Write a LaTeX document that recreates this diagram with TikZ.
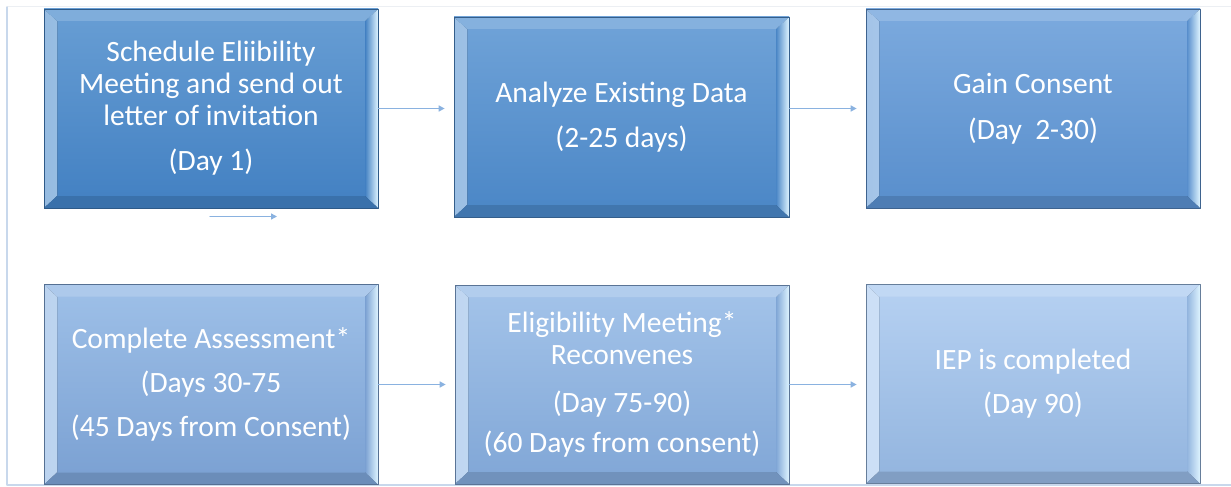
\documentclass[tikz,border=0pt]{standalone}
\usepackage{fontspec}
\setmainfont{Carlito}
\usetikzlibrary{arrows.meta}

\definecolor{topA}{RGB}{104,158,212}  \definecolor{botA}{RGB}{66,128,194}
\definecolor{topB}{RGB}{112,163,216}  \definecolor{botB}{RGB}{74,134,198}
\definecolor{topC}{RGB}{124,170,222}  \definecolor{botC}{RGB}{88,142,204}
\definecolor{topD}{RGB}{158,192,232}  \definecolor{botD}{RGB}{122,160,210}
\definecolor{topE}{RGB}{164,196,234}  \definecolor{botE}{RGB}{128,166,214}
\definecolor{topF}{RGB}{182,209,242}  \definecolor{botF}{RGB}{146,180,222}
\definecolor{glint}{RGB}{222,244,255}
\definecolor{arrowblue}{RGB}{138,178,224}
\definecolor{framelight}{RGB}{200,216,236}
\definecolor{framefaint}{RGB}{236,239,243}

\begin{document}
\begin{tikzpicture}[x=1pt, y=-1pt, line join=round, line cap=round,
  >={Triangle[length=6pt,width=6pt]},
  stage/.style 2 args={minimum width=334pt, minimum height=199pt, inner sep=0pt,
    align=center, text=white, font=\fontsize{29.5}{32}\selectfont,
    top color=#1, bottom color=#2, draw=#2!70!black, line width=0.7pt,
    path picture={
      % bevel strips
      \fill[left color=#1!70!white, right color=glint]
        (path picture bounding box.south west) -- (path picture bounding box.north west)
        -- ([xshift=13pt,yshift=-12pt]path picture bounding box.north west)
        -- ([xshift=13pt,yshift=12pt]path picture bounding box.south west) -- cycle;
      \fill[left color=#2, right color=glint]
        (path picture bounding box.south east) -- (path picture bounding box.north east)
        -- ([xshift=-13pt,yshift=-12pt]path picture bounding box.north east)
        -- ([xshift=-13pt,yshift=12pt]path picture bounding box.south east) -- cycle;
      \fill[#1!85!white]
        (path picture bounding box.north west) -- (path picture bounding box.north east)
        -- ([xshift=-13pt,yshift=-12pt]path picture bounding box.north east)
        -- ([xshift=13pt,yshift=-12pt]path picture bounding box.north west) -- cycle;
      \fill[#2!88!black]
        (path picture bounding box.south west) -- (path picture bounding box.south east)
        -- ([xshift=-13pt,yshift=12pt]path picture bounding box.south east)
        -- ([xshift=13pt,yshift=12pt]path picture bounding box.south west) -- cycle;
    }},
  flow/.style={draw=arrowblue, line width=1.4pt, ->, shorten >=9pt}]

  \useasboundingbox (0,0) rectangle (1231,487);

  % Khung
  \draw[framefaint, line width=1pt] (7,7) -- (1231,7);
  \draw[framelight, line width=1.2pt] (1231,485) -- (7,485) -- (7,7);

  % Hang tren
  \node[stage={topA}{botA}] (schedule) at (211,108.5)
    {Schedule Eliibility\\Meeting and send out\\letter of invitation\\[13pt](Day 1)};
  \node[stage={topB}{botB}, minimum width=335pt, minimum height=200pt] (analyze) at (621.5,117)
    {Analyze Existing Data\\[13pt](2-25 days)};
  \node[stage={topC}{botC}] (consent) at (1033,108.5)
    {Gain Consent\\[14pt](Day\ \ 2-30)};

  % Hang duoi
  \node[stage={topD}{botD}, minimum height=200pt] (assess) at (211,384.5)
    {Complete Assessment*\\[12pt](Days 30-75\\[12pt](45 Days from Consent)};
  \node[stage={topE}{botE}] (reconvene) at (622,384.5)
    {Eligibility Meeting*\\Reconvenes\\[16pt](Day 75-90)\\[8pt](60 Days from consent)};
  \node[stage={topF}{botF}] (iep) at (1033,384)
    {IEP is completed\\[12pt](Day 90)};

  % Mui ten
  \draw[flow] (schedule.east) -- (schedule.east -| analyze.west);
  \draw[flow] (analyze.east |- schedule.east) -- (consent.west);
  \draw[flow] (assess.east) -- (assess.east -| reconvene.west);
  \draw[flow] (reconvene.east |- assess.east) -- (iep.west |- assess.east);

  % Mui ten le
  \coordinate (looseA) at (210,216.5);
  \coordinate (looseB) at (277,216.5);
  \draw[flow, shorten >=0pt] (looseA) -- (looseB);
\end{tikzpicture}
\end{document}
